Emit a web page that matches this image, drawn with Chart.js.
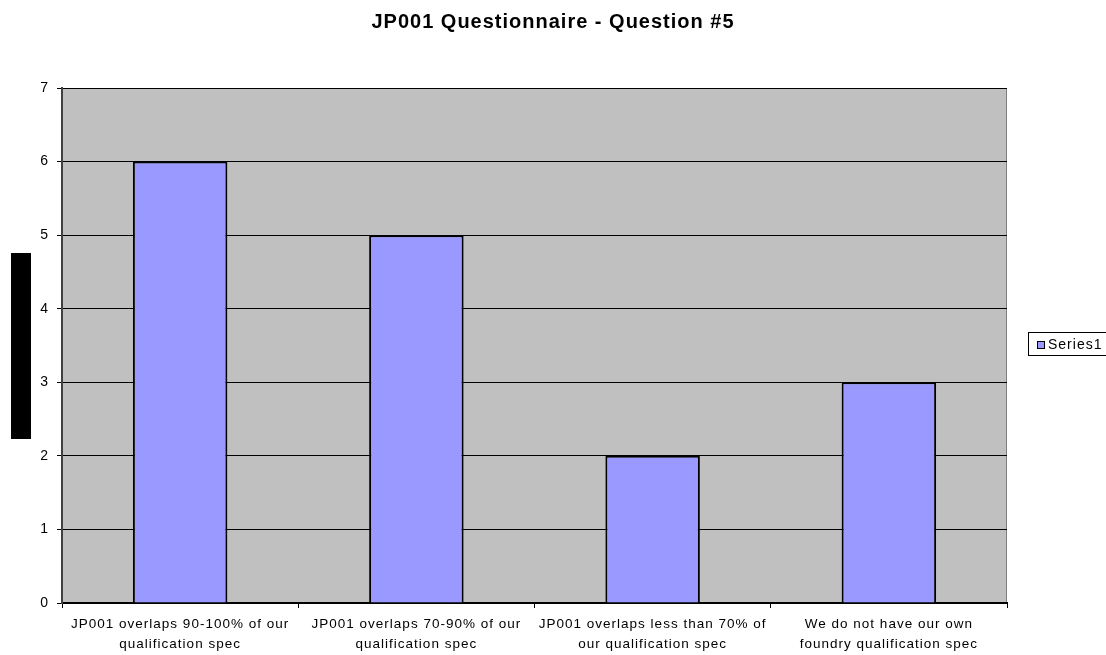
<!DOCTYPE html>
<html>
<head>
<meta charset="utf-8">
<script src="https://cdn.jsdelivr.net/npm/chart.js@4/dist/chart.umd.min.js"></script>
<style>
  html, body { margin: 0; padding: 0; background: #ffffff; }
  #wrap { width: 1106px; height: 655px; position: relative; }
</style>
</head>
<body>
<div id="wrap"><canvas id="c" width="1106" height="655"></canvas></div>
<script>
// Answer categories (two-line labels) and response counts
const categories = [
  ["JP001 overlaps 90-100% of our", "qualification spec"],
  ["JP001 overlaps 70-90% of our", "qualification spec"],
  ["JP001 overlaps less than 70% of", "our qualification spec"],
  ["We do not have our own", "foundry qualification spec"]
];
const series1 = [6, 5, 2, 3];
const seriesName = "Series1";
const yTicks = [0, 1, 2, 3, 4, 5, 6, 7];

const FONT = "'Liberation Sans', Arial, sans-serif";

// Slightly tracked-out text everywhere
const textSpacing = {
  id: 'textSpacing',
  beforeDraw(chart) {
    chart.ctx.letterSpacing = '1px';
  }
};

// Grey plot background with a thin frame
const plotBackground = {
  id: 'plotBackground',
  beforeDraw(chart) {
    const { ctx, chartArea: a } = chart;
    ctx.save();
    ctx.fillStyle = '#c0c0c0';
    ctx.fillRect(a.left, a.top, a.right - a.left, a.bottom - a.top);
    ctx.strokeStyle = '#808080';
    ctx.lineWidth = 1;
    ctx.strokeRect(a.left + 0.5, a.top + 0.5, a.right - a.left - 1, a.bottom - a.top);
    ctx.restore();
  }
};

// Side decorations: axis title block and boxed legend
const sideItems = {
  id: 'sideItems',
  afterDraw(chart) {
    const { ctx } = chart;
    ctx.save();
    // y-axis title block
    ctx.fillStyle = '#000000';
    ctx.fillRect(11, 253, 20, 186);
    // legend box
    const ds = chart.data.datasets[0];
    ctx.fillStyle = '#ffffff';
    ctx.fillRect(1028, 332, 90, 23);
    ctx.strokeStyle = '#000000';
    ctx.lineWidth = 1;
    ctx.strokeRect(1028.5, 332.5, 90, 23);
    ctx.fillStyle = ds.backgroundColor;
    ctx.fillRect(1037, 341, 8, 8);
    ctx.strokeRect(1037.5, 341.5, 7, 7);
    ctx.fillStyle = '#000000';
    ctx.font = '14px ' + FONT;
    ctx.textBaseline = 'middle';
    ctx.textAlign = 'left';
    ctx.fillText(ds.label, 1048, 345);
    ctx.restore();
  }
};

new Chart(document.getElementById('c'), {
  type: 'bar',
  data: {
    labels: categories,
    datasets: [{
      label: seriesName,
      data: series1,
      backgroundColor: '#9999ff',
      borderColor: '#000000',
      borderWidth: 2,
      barPercentage: 0.4,
      categoryPercentage: 1.0
    }]
  },
  options: {
    responsive: false,
    animation: false,
    devicePixelRatio: 1,
    layout: { padding: 0 },
    plugins: {
      legend: { display: false },
      tooltip: { enabled: false },
      title: {
        display: true,
        text: 'JP001 Questionnaire - Question #5',
        color: '#000000',
        font: { family: FONT, size: 20, weight: 'bold', lineHeight: 1.2 },
        padding: { top: 10, bottom: 54 }
      }
    },
    scales: {
      x: {
        offset: true,
        grid: {
          offset: true,
          drawOnChartArea: false,
          drawTicks: true,
          tickLength: 5,
          color: '#000000'
        },
        border: { display: true, color: '#000000', width: 2 },
        ticks: {
          color: '#000000',
          font: { family: FONT, size: 13.5, lineHeight: 1.48 },
          maxRotation: 0,
          autoSkip: false,
          padding: 6
        },
        afterFit(scale) { scale.height = 52; }
      },
      y: {
        min: 0,
        max: 7,
        afterBuildTicks(scale) { scale.ticks = yTicks.map(v => ({ value: v })); },
        grid: {
          color: '#000000',
          lineWidth: 1,
          tickLength: 5
        },
        border: { display: true, color: '#404040', width: 2 },
        ticks: {
          color: '#000000',
          font: { family: FONT, size: 14 },
          padding: 8
        },
        afterFit(scale) { scale.width = 62; }
      },
      // empty right-hand band that holds the legend
      legendBand: {
        type: 'linear',
        position: 'right',
        grid: { display: false },
        border: { display: false },
        ticks: { display: false },
        afterFit(scale) { scale.width = 99; }
      }
    }
  },
  plugins: [textSpacing, plotBackground, sideItems]
});
</script>
</body>
</html>
